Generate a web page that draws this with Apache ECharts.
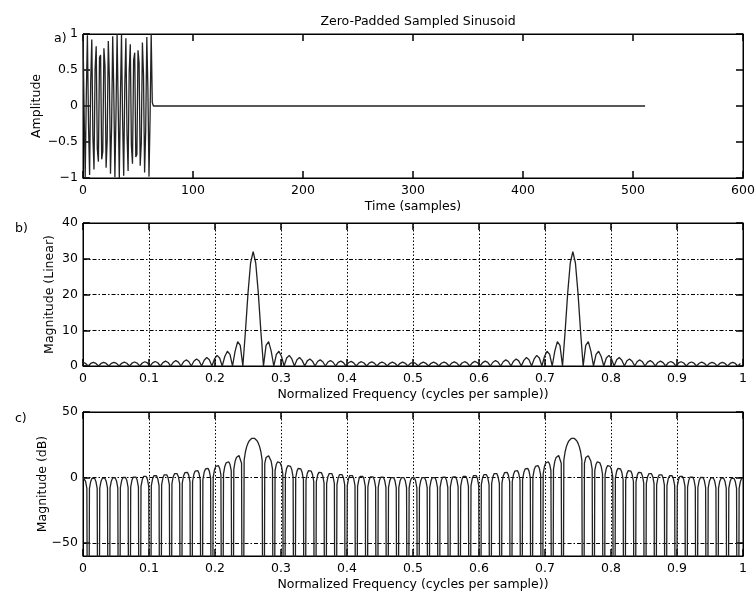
<!DOCTYPE html>
<html>
<head>
<meta charset="utf-8">
<script src="https://cdn.jsdelivr.net/npm/echarts@6/dist/echarts.min.js"></script>
<style>
  html, body { margin: 0; padding: 0; background: #fff; }
  #chart { width: 756px; height: 596px; }
</style>
</head>
<body>
<div id="chart"></div>
<script>
// a) the 64 samples of the sinusoid, then zeros up to sample 511
const samples = [
  1.000, -0.049, -0.995, 0.147, 0.981, -0.243, -0.957, 0.337,
  0.924, -0.428, -0.882, 0.514, 0.831, -0.596, -0.773, 0.672,
  0.707, -0.741, -0.634, 0.803, 0.556, -0.858, -0.471, 0.904,
  0.383, -0.942, -0.290, 0.970, 0.195, -0.989, -0.098, 0.999,
  0.000, -0.999, 0.098, 0.989, -0.195, -0.970, 0.290, 0.942,
  -0.383, -0.904, 0.471, 0.858, -0.556, -0.803, 0.634, 0.741,
  -0.707, -0.672, 0.773, 0.596, -0.831, -0.514, 0.882, 0.428,
  -0.924, -0.337, 0.957, 0.243, -0.981, -0.147, 0.995, 0.049
];
const zeroPad = [[64, 0], [511, 0]];

// b) linear magnitude, read every 2nd bin of the 512-point spectrum
const magLinear = [
  1.00, 0.71, 0, 0.71, 1.00, 0.71, 0, 0.72,
  1.02, 0.72, 0, 0.73, 1.04, 0.74, 0, 0.76,
  1.08, 0.77, 0, 0.78, 1.12, 0.80, 0, 0.83,
  1.18, 0.85, 0, 0.88, 1.26, 0.91, 0, 0.95,
  1.37, 0.99, 0, 1.04, 1.51, 1.10, 0, 1.17,
  1.70, 1.25, 0, 1.34, 1.97, 1.46, 0, 1.60,
  2.36, 1.74, 0, 1.96, 2.97, 2.25, 0, 2.65,
  4.12, 3.23, 0, 4.14, 6.81, 5.78, 0, 9.61,
  20.38, 28.81, 32.00, 28.81, 20.38, 9.61, 0, 5.78,
  6.81, 4.14, 0, 3.23, 4.12, 2.65, 0, 2.25,
  2.97, 1.96, 0, 1.74, 2.37, 1.57, 0, 1.44,
  1.97, 1.35, 0, 1.25, 1.71, 1.18, 0, 1.11,
  1.52, 1.05, 0, 1.00, 1.38, 0.96, 0, 0.92,
  1.28, 0.89, 0, 0.86, 1.20, 0.84, 0, 0.82,
  1.14, 0.80, 0, 0.78, 1.10, 0.77, 0, 0.76,
  1.07, 0.76, 0, 0.75, 1.06, 0.75, 0, 0.74,
  1.05, 0.74, 0, 0.75, 1.06, 0.75, 0, 0.76,
  1.07, 0.76, 0, 0.77, 1.10, 0.78, 0, 0.80,
  1.14, 0.82, 0, 0.84, 1.20, 0.86, 0, 0.89,
  1.28, 0.92, 0, 0.96, 1.38, 1.00, 0, 1.05,
  1.52, 1.11, 0, 1.18, 1.71, 1.25, 0, 1.35,
  1.97, 1.44, 0, 1.57, 2.37, 1.74, 0, 1.96,
  2.97, 2.25, 0, 2.65, 4.12, 3.23, 0, 4.14,
  6.81, 5.78, 0, 9.61, 20.38, 28.81, 32.00, 28.81,
  20.38, 9.61, 0, 5.78, 6.81, 4.14, 0, 3.23,
  4.12, 2.65, 0, 2.25, 2.97, 1.96, 0, 1.74,
  2.36, 1.60, 0, 1.46, 1.97, 1.34, 0, 1.25,
  1.70, 1.17, 0, 1.10, 1.51, 1.04, 0, 0.99,
  1.37, 0.95, 0, 0.91, 1.26, 0.88, 0, 0.85,
  1.18, 0.83, 0, 0.80, 1.12, 0.78, 0, 0.77,
  1.08, 0.76, 0, 0.74, 1.04, 0.73, 0, 0.72,
  1.02, 0.72, 0, 0.71, 1.00, 0.71, 0, 0.71
];

// c) magnitude in dB, every bin; -300 = the nulls that run off the bottom
const magDb = [
  0.00, -0.69, -3.01, -8.34, -300, -8.34, -3.01, -0.69,
  0.00, -0.69, -3.01, -8.34, -300, -8.17, -2.84, -0.52,
  0.17, -0.52, -2.84, -8.17, -300, -8.00, -2.67, -0.35,
  0.34, -0.35, -2.67, -8.00, -300, -7.67, -2.34, -0.02,
  0.67, -0.02, -2.34, -7.67, -300, -7.36, -2.03, 0.29,
  0.98, 0.29, -2.03, -7.36, -300, -6.90, -1.57, 0.75,
  1.44, 0.75, -1.57, -6.90, -300, -6.33, -1.00, 1.32,
  2.01, 1.32, -1.00, -6.33, -300, -5.61, -0.28, 2.04,
  2.73, 2.04, -0.28, -5.61, -300, -4.76, 0.57, 2.89,
  3.58, 2.89, 0.57, -4.76, -300, -4.28, 1.19, 3.66,
  4.49, 3.95, 1.78, -3.40, -300, -3.09, 2.41, 4.91,
  5.77, 5.27, 3.13, -2.01, -300, -1.62, 3.92, 6.46,
  7.37, 6.92, 4.83, -0.26, -300, 0.26, 5.86, 8.47,
  9.45, 9.06, 7.06, 2.05, -300, 2.67, 8.39, 11.11,
  12.22, 11.98, 10.12, 5.29, -300, 6.37, 12.30, 15.26,
  16.65, 16.71, 15.22, 10.80, -300, 12.99, 19.65, 23.56,
  26.18, 27.99, 29.19, 29.88, 30.10, 29.88, 29.19, 27.99,
  26.18, 23.56, 19.65, 12.99, -300, 10.80, 15.22, 16.71,
  16.65, 15.26, 12.30, 6.37, -300, 5.29, 10.12, 11.98,
  12.22, 11.11, 8.39, 2.67, -300, 2.05, 7.06, 9.06,
  9.45, 8.47, 5.86, 0.26, -300, -0.26, 4.83, 6.92,
  7.37, 6.46, 3.92, -1.62, -300, -2.01, 3.13, 5.27,
  5.77, 4.91, 2.41, -3.09, -300, -3.40, 1.78, 3.95,
  4.49, 3.66, 1.19, -4.28, -300, -4.70, 0.63, 2.95,
  3.64, 2.95, 0.63, -4.70, -300, -5.54, -0.21, 2.11,
  2.80, 2.11, -0.21, -5.54, -300, -6.20, -0.87, 1.45,
  2.14, 1.45, -0.87, -6.20, -300, -6.76, -1.43, 0.89,
  1.58, 0.89, -1.43, -6.76, -300, -7.20, -1.87, 0.45,
  1.14, 0.45, -1.87, -7.20, -300, -7.51, -2.18, 0.14,
  0.83, 0.14, -2.18, -7.51, -300, -7.75, -2.42, -0.10,
  0.59, -0.10, -2.42, -7.75, -300, -7.83, -2.50, -0.18,
  0.51, -0.18, -2.50, -7.83, -300, -7.92, -2.59, -0.27,
  0.42, -0.27, -2.59, -7.92, -300, -7.83, -2.50, -0.18,
  0.51, -0.18, -2.50, -7.83, -300, -7.75, -2.42, -0.10,
  0.59, -0.10, -2.42, -7.75, -300, -7.51, -2.18, 0.14,
  0.83, 0.14, -2.18, -7.51, -300, -7.20, -1.87, 0.45,
  1.14, 0.45, -1.87, -7.20, -300, -6.76, -1.43, 0.89,
  1.58, 0.89, -1.43, -6.76, -300, -6.20, -0.87, 1.45,
  2.14, 1.45, -0.87, -6.20, -300, -5.54, -0.21, 2.11,
  2.80, 2.11, -0.21, -5.54, -300, -4.70, 0.63, 2.95,
  3.64, 2.95, 0.63, -4.70, -300, -4.28, 1.19, 3.66,
  4.49, 3.95, 1.78, -3.40, -300, -3.09, 2.41, 4.91,
  5.77, 5.27, 3.13, -2.01, -300, -1.62, 3.92, 6.46,
  7.37, 6.92, 4.83, -0.26, -300, 0.26, 5.86, 8.47,
  9.45, 9.06, 7.06, 2.05, -300, 2.67, 8.39, 11.11,
  12.22, 11.98, 10.12, 5.29, -300, 6.37, 12.30, 15.26,
  16.65, 16.71, 15.22, 10.80, -300, 12.99, 19.65, 23.56,
  26.18, 27.99, 29.19, 29.88, 30.10, 29.88, 29.19, 27.99,
  26.18, 23.56, 19.65, 12.99, -300, 10.80, 15.22, 16.71,
  16.65, 15.26, 12.30, 6.37, -300, 5.29, 10.12, 11.98,
  12.22, 11.11, 8.39, 2.67, -300, 2.05, 7.06, 9.06,
  9.45, 8.47, 5.86, 0.26, -300, -0.26, 4.83, 6.92,
  7.37, 6.46, 3.92, -1.62, -300, -2.01, 3.13, 5.27,
  5.77, 4.91, 2.41, -3.09, -300, -3.40, 1.78, 3.95,
  4.49, 3.66, 1.19, -4.28, -300, -4.76, 0.57, 2.89,
  3.58, 2.89, 0.57, -4.76, -300, -5.61, -0.28, 2.04,
  2.73, 2.04, -0.28, -5.61, -300, -6.33, -1.00, 1.32,
  2.01, 1.32, -1.00, -6.33, -300, -6.90, -1.57, 0.75,
  1.44, 0.75, -1.57, -6.90, -300, -7.36, -2.03, 0.29,
  0.98, 0.29, -2.03, -7.36, -300, -7.67, -2.34, -0.02,
  0.67, -0.02, -2.34, -7.67, -300, -8.00, -2.67, -0.35,
  0.34, -0.35, -2.67, -8.00, -300, -8.17, -2.84, -0.52,
  0.17, -0.52, -2.84, -8.17, -300, -8.34, -3.01, -0.69,
  0.00, -0.69, -3.01, -8.34, -300, -8.34, -3.01, -0.69
];

const fftSize = 512;
const dbTicks = [-50, 0, 50];

const FONT = 'DejaVu Sans';
const minus = v => String(v).replace('-', '\u2212');
const dotted = [1.5, 2];
const dashDot = [4, 2, 1.5, 2];

const grids = [
  { left: 83, top: 34, width: 660, height: 144 },
  { left: 83, top: 223, width: 660, height: 143 },
  { left: 83, top: 412, width: 660, height: 144 }
].map(g => Object.assign(g, { show: true, borderColor: '#000', borderWidth: 1, outerBoundsMode: 'none' }));

// one axis; labelled axes sit bottom/left, the bare ones give the ticks on the top/right edges
function axis(o) {
  const a = {
    type: 'value', gridIndex: o.grid, min: o.min, max: o.max, position: o.pos,
    axisLine: { show: true, onZero: false, lineStyle: { color: '#000', width: 1 } },
    axisTick: { show: true, inside: true, length: 7, lineStyle: { color: '#000', width: 1.5 } },
    axisLabel: { show: !!o.name, color: '#000', fontFamily: FONT, fontSize: 12.5,
      margin: o.pos === 'bottom' ? 6 : 5, formatter: minus },
    splitLine: { show: !!o.split, lineStyle: { color: '#000', width: 1, type: o.split } }
  };
  if (o.interval) a.interval = o.interval;
  if (o.custom) {
    a.axisTick.customValues = o.custom;
    a.axisLabel.customValues = o.custom;
  }
  if (o.name) {
    a.name = o.name;
    a.nameLocation = 'middle';
    a.nameGap = o.gap;
    a.nameMoveOverlap = false;
    a.nameTextStyle = { color: '#000', fontFamily: FONT, fontSize: 12.5 };
  }
  return a;
}

const freqName = 'Normalized Frequency (cycles per sample))';
const xAxes = [
  axis({ grid: 0, min: 0, max: 600, interval: 100, pos: 'bottom', name: 'Time (samples)', gap: 22 }),
  axis({ grid: 1, min: 0, max: 1, interval: 0.1, pos: 'bottom', name: freqName, gap: 22, split: dotted }),
  axis({ grid: 2, min: 0, max: 1, interval: 0.1, pos: 'bottom', name: freqName, gap: 22, split: dotted }),
  axis({ grid: 0, min: 0, max: 600, interval: 100, pos: 'top' }),
  axis({ grid: 1, min: 0, max: 1, interval: 0.1, pos: 'top' }),
  axis({ grid: 2, min: 0, max: 1, interval: 0.1, pos: 'top' })
];
const yAxes = [
  axis({ grid: 0, min: -1, max: 1, interval: 0.5, pos: 'left', name: 'Amplitude', gap: 40 }),
  axis({ grid: 1, min: 0, max: 40, interval: 10, pos: 'left', name: 'Magnitude (Linear)', gap: 27, split: dashDot }),
  axis({ grid: 2, min: -60, max: 50, custom: dbTicks, pos: 'left', name: 'Magnitude (dB)', gap: 34, split: dashDot }),
  axis({ grid: 0, min: -1, max: 1, interval: 0.5, pos: 'right' }),
  axis({ grid: 1, min: 0, max: 40, interval: 10, pos: 'right' }),
  axis({ grid: 2, min: -60, max: 50, custom: dbTicks, pos: 'right' })
];

const lineStyle = { color: '#222', width: 1.3 };
const labelStyle = { fontFamily: FONT, fontSize: 12.5, fontWeight: 'normal', color: '#000' };
const chart = echarts.init(document.getElementById('chart'), null, { renderer: 'canvas' });
chart.setOption({
  animation: false,
  backgroundColor: '#fff',
  title: [
    { text: 'Zero-Padded Sampled Sinusoid', left: 413, top: 10, textAlign: 'center', textStyle: labelStyle },
    { text: 'a)', left: 49, top: 27, textStyle: labelStyle },
    { text: 'b)', left: 10, top: 217, textStyle: labelStyle },
    { text: 'c)', left: 10, top: 407, textStyle: labelStyle }
  ],
  grid: grids,
  xAxis: xAxes,
  yAxis: yAxes,
  series: [
    {
      type: 'line', xAxisIndex: 0, yAxisIndex: 0, showSymbol: false, lineStyle,
      data: samples.map((v, n) => [n, v]).concat(zeroPad)
    },
    {
      type: 'line', xAxisIndex: 1, yAxisIndex: 1, showSymbol: false, lineStyle,
      data: magLinear.map((v, i) => [2 * i / fftSize, v])
    },
    {
      type: 'line', xAxisIndex: 2, yAxisIndex: 2, showSymbol: false, lineStyle,
      data: magDb.map((v, k) => [k / fftSize, v])
    }
  ]
});
</script>
</body>
</html>
